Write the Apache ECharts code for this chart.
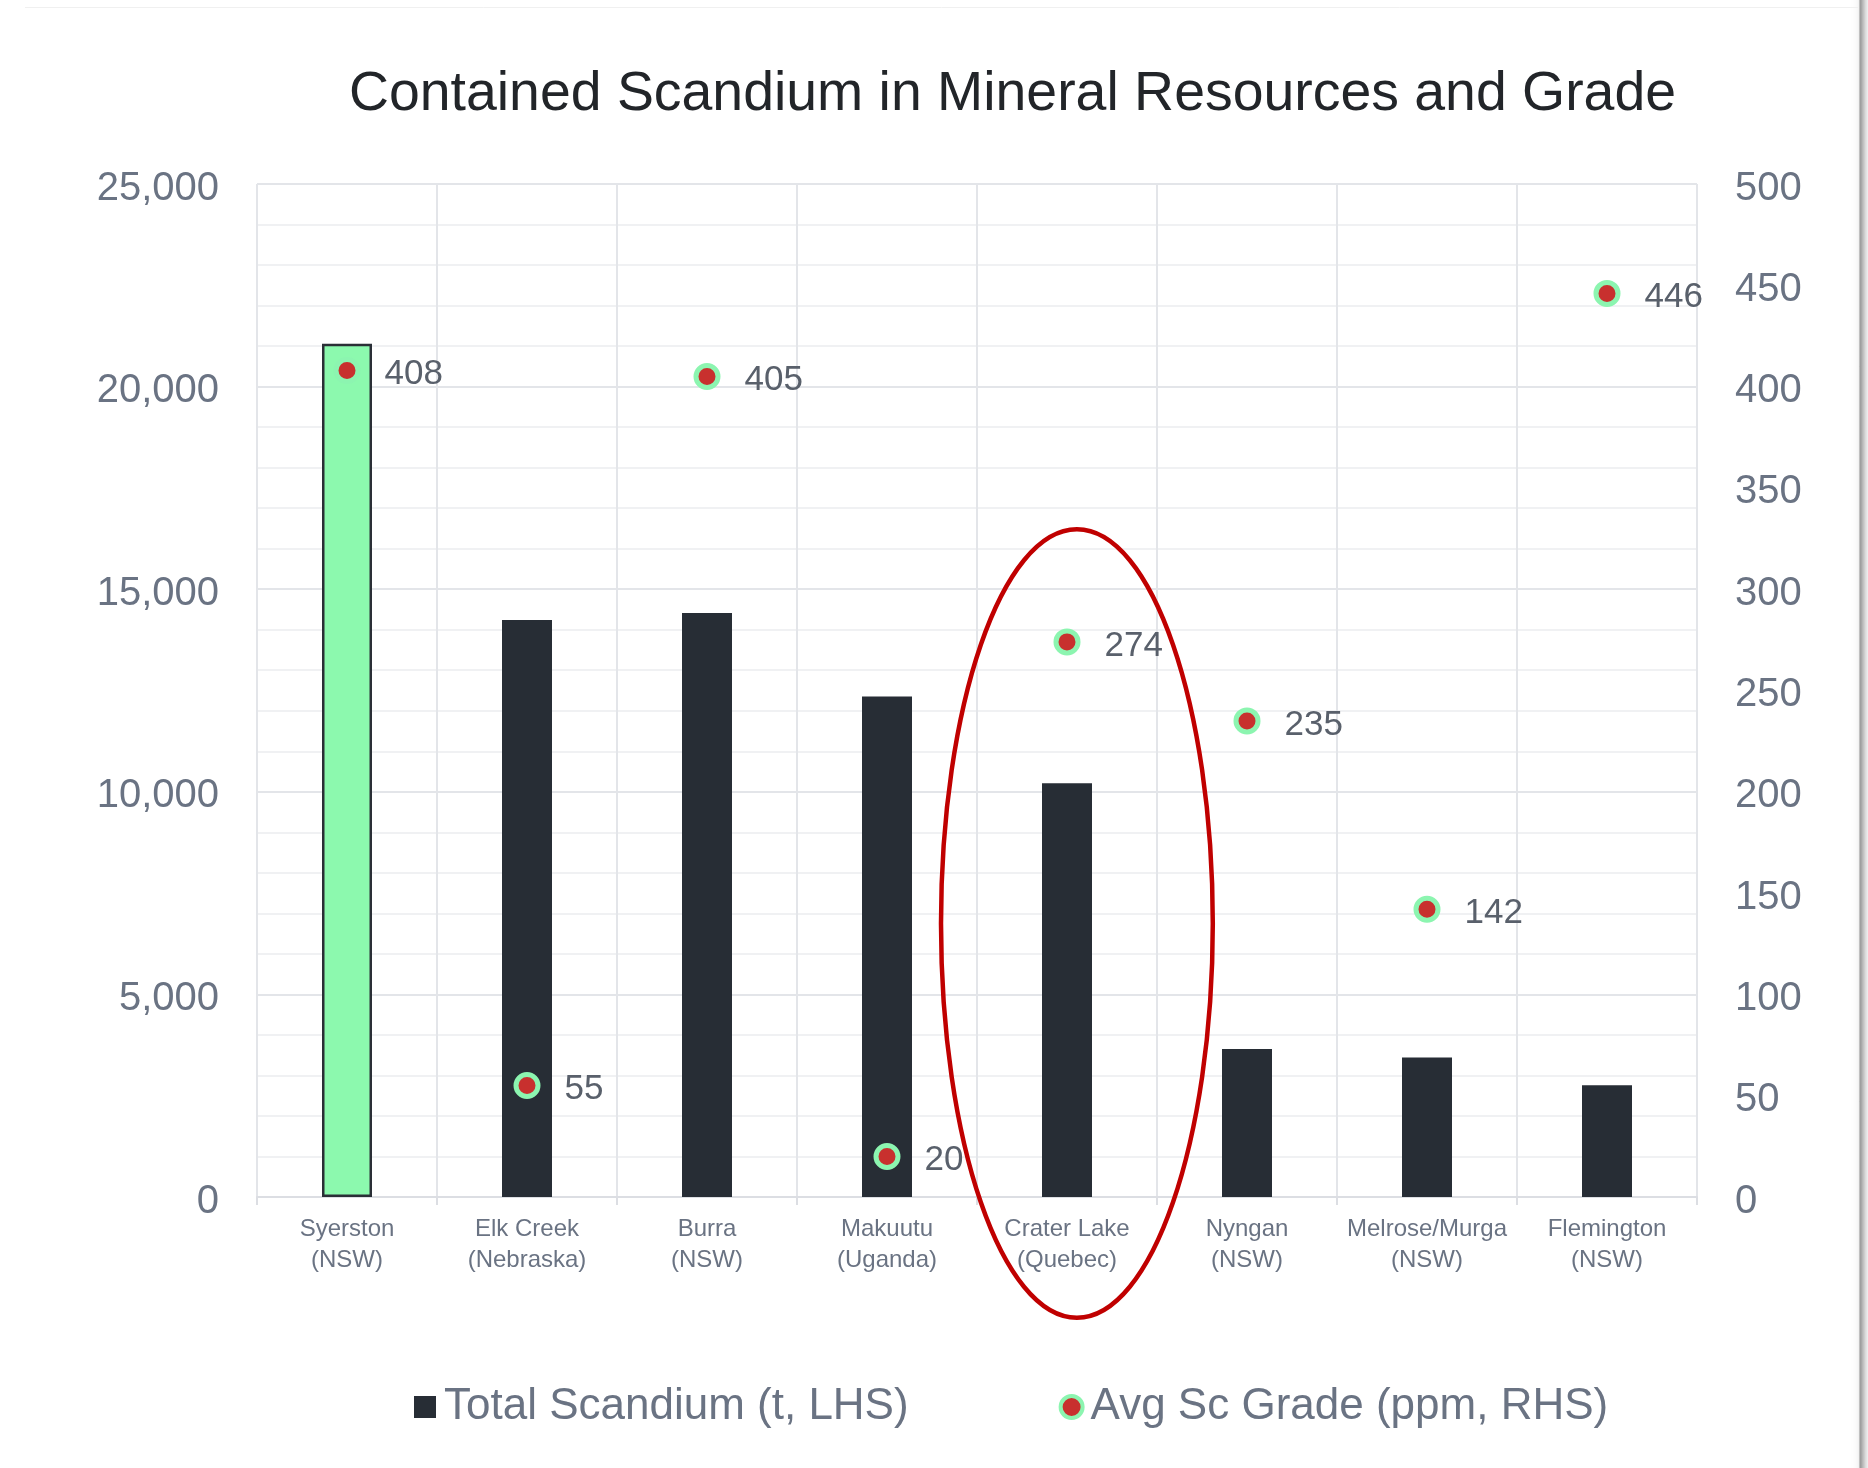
<!DOCTYPE html>
<html>
<head>
<meta charset="utf-8">
<script src="https://cdn.jsdelivr.net/npm/echarts@6/dist/echarts.min.js"></script>
<style>
html,body{margin:0;padding:0;background:#fff;}
#main{width:1868px;height:1468px;}
</style>
</head>
<body>
<div id="main"></div>
<script>
// ---- data ----
const categories = ['Syerston\n(NSW)', 'Elk Creek\n(Nebraska)', 'Burra\n(NSW)', 'Makuutu\n(Uganda)',
  'Crater Lake\n(Quebec)', 'Nyngan\n(NSW)', 'Melrose/Murga\n(NSW)', 'Flemington\n(NSW)'];
const totalScandium = [21060, 14240, 14410, 12350, 10210, 3650, 3440, 2760];
const avgGrade = [408, 55, 405, 20, 274, 235, 142, 446];
const highlightIndex = 0;          // Syerston bar drawn in green
const circledIndex = 4;            // Crater Lake circled
const seriesNames = ['Total Scandium (t, LHS)', 'Avg Sc Grade (ppm, RHS)'];

const FONT = '"Liberation Sans", Arial, Helvetica, sans-serif';
const AXIS_GREY = '#6a7383';

const barData = totalScandium.map((v, i) => i === highlightIndex
  ? { value: v, itemStyle: { color: '#8cf9ae', borderColor: '#2a2f36', borderWidth: 2.5 } }
  : v);

const chart = echarts.init(document.getElementById('main'), null, { renderer: 'canvas' });

const yRich = { v: { fontFamily: FONT, fontSize: 40, color: AXIS_GREY, padding: [9, 0, 0, 0] } };

const option = {
  backgroundColor: '#ffffff',
  animation: false,
  textStyle: { fontFamily: FONT },
  title: {
    text: 'Contained Scandium in Mineral Resources and Grade',
    left: 344, top: 62,
    textStyle: { fontFamily: FONT, fontSize: 55.4, fontWeight: 'normal', color: '#222529' }
  },
  legend: {
    left: 409, top: 1380,
    itemWidth: 22, itemHeight: 22, itemGap: 150,
    textStyle: { fontFamily: FONT, fontSize: 44, color: AXIS_GREY, padding: [0, 0, 0, 3] },
    data: [
      { name: seriesNames[0], icon: 'rect' },
      { name: seriesNames[1], icon: 'circle', itemStyle: { borderWidth: 4 } }
    ]
  },
  grid: { left: 257, right: 171, top: 184, bottom: 271, containLabel: false },
  xAxis: {
    type: 'category',
    data: categories,
    axisLine: { lineStyle: { color: '#dcdee3', width: 2 } },
    axisTick: { show: true, interval: 0, length: 8, lineStyle: { color: '#dcdee3', width: 2 } },
    splitLine: { show: true, interval: 0, lineStyle: { color: '#e3e5e9', width: 2 } },
    axisLabel: { interval: 0, fontFamily: FONT, fontSize: 24, color: AXIS_GREY, margin: 17, lineHeight: 31 }
  },
  yAxis: [
    {
      type: 'value', min: 0, max: 25000, interval: 5000,
      axisLine: { show: false }, axisTick: { show: false },
      axisLabel: {
        fontFamily: FONT, fontSize: 40, color: AXIS_GREY, margin: 38,
        formatter: v => '{v|' + v.toLocaleString('en-US') + '}',
        rich: yRich
      },
      splitLine: { lineStyle: { color: '#e3e5e9', width: 2 } },
      minorTick: { show: false, splitNumber: 5 },
      minorSplitLine: { show: true, lineStyle: { color: '#f0f1f3', width: 2 } }
    },
    {
      type: 'value', min: 0, max: 500, interval: 50,
      axisLine: { show: false }, axisTick: { show: false },
      axisLabel: {
        fontFamily: FONT, fontSize: 40, color: AXIS_GREY, margin: 38,
        formatter: v => '{v|' + v + '}',
        rich: yRich
      },
      splitLine: { show: false }
    }
  ],
  series: [
    {
      name: seriesNames[0], type: 'bar', yAxisIndex: 0,
      data: barData, barWidth: 50,
      itemStyle: { color: '#272d35' }
    },
    {
      name: seriesNames[1], type: 'scatter', yAxisIndex: 1,
      data: avgGrade, symbol: 'circle', symbolSize: 22, z: 5,
      itemStyle: { color: '#c8302e', borderColor: '#8cf5b0', borderWidth: 5, opacity: 1 },
      label: {
        show: true, position: 'right', distance: 24, offset: [0, 4],
        fontFamily: FONT, fontSize: 35, color: '#59606b'
      }
    }
  ]
};
chart.setOption(option);

// ---- annotation: red ellipse around the circled category ----
const ellipseCenterValue = 6750;   // on left axis
const ellipseHalfHeightValue = 9730;
const ellipseHalfWidthCats = 0.755;
const ellipseOffsetCats = 0.055;

const c = chart.convertToPixel({ xAxisIndex: 0, yAxisIndex: 0 }, [circledIndex, ellipseCenterValue]);
const c2 = chart.convertToPixel({ xAxisIndex: 0, yAxisIndex: 0 }, [circledIndex + 1, ellipseCenterValue + ellipseHalfHeightValue]);
const catW = c2[0] - c[0];
const ry = c[1] - c2[1];

chart.setOption({
  graphic: [
    {
      type: 'rect', z: -10, silent: true,
      shape: { x: -30, y: -40, width: 1889, height: 1560 },
      style: { fill: '#ffffff', stroke: '#eeeeee', lineWidth: 1,
        shadowBlur: 8, shadowColor: 'rgba(0,0,0,0.55)', shadowOffsetX: 3, shadowOffsetY: 0 }
    },
    {
      type: 'line', z: -9, silent: true,
      shape: { x1: 25, y1: 7.5, x2: 1858, y2: 7.5 },
      style: { stroke: '#f0f0f0', lineWidth: 1 }
    },
    {
      type: 'ellipse', z: 100, silent: true,
      shape: { cx: c[0] + ellipseOffsetCats * catW, cy: c[1], rx: ellipseHalfWidthCats * catW, ry: ry },
      style: { fill: 'none', stroke: '#c00000', lineWidth: 4.5 }
    }
  ]
});
</script>
</body>
</html>
